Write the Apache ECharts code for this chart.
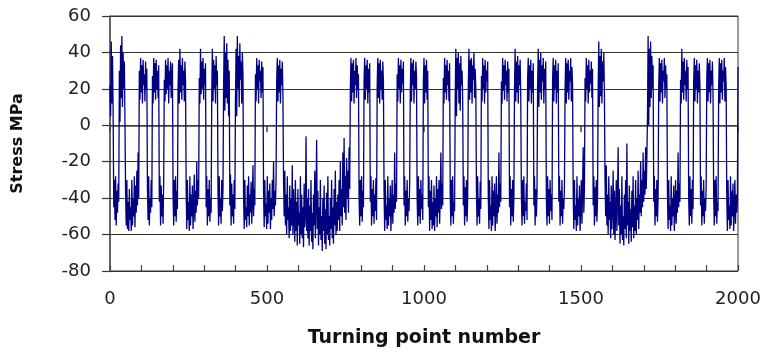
<!DOCTYPE html>
<html>
<head>
<meta charset="utf-8">
<script src="https://cdn.jsdelivr.net/npm/echarts@6/dist/echarts.min.js"></script>
<style>
  html, body { margin: 0; padding: 0; background: #fff; }
  #chart { width: 767px; height: 353px; }
</style>
</head>
<body>
<div id="chart"></div>
<script>
// turning points, read block by block off the picture (values in MPa)
const stressA = [
  22, 5, 46, 12, 38, 8,
  -45, -30, -52, -28, -55, -36, -48, -32, -42,
  30, 2, 44, 15, 49, 10, 40, 20, 35, 1,
  -38, -55, -30, -57, -42, -58, -35, -52, -45, -58, -30, -55, -40, -50, -28, -56, -33, -48, -25, -44, -15, -40,
  30, 14, 37, 18, 33, 12, 36, 22, 28, 13, 35, 20, 31,
  -35, -52, -28, -55, -40, -48, -30, -45,
  27, 12, 37, 18, 34, 14, 36, 20, 30, 15, 33,
  -42, -28, -55, -33, -50, -38, -54, -30,
  25, 13, 36, 17, 33, 20, 37, 12, 30, 22, 35, 15, 28, 34,
  -38, -55, -30, -50, -28, -53, -36, -46,
  20, 36, 12, 42, 18, 33, 14, 37, 22, 30, 13, 35, 24,
  -35, -57, -30, -52, -42, -58, -28, -55, -38, -50, -33, -57, -45, -27, -53, -36, -48, -20, -44, -30, -40,
  26, 12, 42, 17, 35, 20, 37, 14, 31, 22, 34,
  -45, -28, -55, -35, -50, -30, -53, -40, -48,
  18, 42, 13, 36, 20, 33, 12, 38, 22, 30,
  -36, -55, -28, -50, -40, -54, -30, -47, -35,
  22, 49, 8, 40, 15, 45, 12, 36, 5, 30,
  -44, -27, -55, -32, -50, -38, -54, -30, -46,
  15, 42, 5, 49, 20, 38, 10, 45, 25, 35, 12, 40, 28,
  -40, -57, -30, -52, -45, -56, -33, -50, -28, -55, -38, -48, -31, -54, -42, -22, -50, -35, -44,
  28, 13, 37, 20, 33, 12, 36, 24, 30, 15, 35, 18, 32,
  -38, -56, -30, -50, -43, -57, -28, -54, -36, -48, -32, -57, -40, -52, -30, -46, -20, -50, -36, -44, -30,
  24, 37, 13, 33, 18, 36, 12, 31, 22, 35, 16
]
// long low stretch around 550-750
const stressB = [
  -30, -50, -25, -55, -38, -60, -28, -52, -45, -62, -33, -58, -40, -55, -22, -60, -35,
  -50, -64, -30, -58, -42, -66, -35, -55, -48, -65, -28, -60, -38, -62, -45, -67, -32, -56, -50, -6, -58, -40,
  -62, -35, -66, -44, -58, -30, -64, -48, -68, -38, -55, -25, -62, -42, -8, -57, -36, -66, -45, -60, -30, -63, -50, -69, -40,
  -58, -33, -65, -46, -68, -37, -60, -28, -63, -50, -66, -40, -57, -30, -62, -45, -65, -35, -55, -25, -60, -42, -58, -38,
  -52, -30, -58, -20, -50, -35, -55, -15, -45, -7, -48, -28, -52, -18, -40, -25, -48, -12, -35
]
const stressC = [
  20, 37, 13, 34, 18, 36, 12, 30, 22, 37, 15, 33, 20, 28,
  -40, -55, -30, -50, -28, -53, -36, -45,
  25, 37, 14, 33, 20, 36, 12, 31, 18, 34,
  -42, -28, -55, -35, -50, -30, -54, -38, -47, -29, -52,
  22, 37, 15, 34, 12, 36, 20, 30, 14, 35, 24,
  -36, -58, -30, -52, -44, -57, -28, -55, -40, -50, -33, -58, -45, -30, -54, -38, -48, -15, -46, -32, -42,
  28, 13, 37, 20, 33, 12, 36, 18, 31, 23, 35,
  -44, -28, -55, -36, -50, -30, -53, -40, -47, -33,
  18, 37, 13, 34, 22, 36, 12, 30, 20, 35, 26,
  -40, -55, -28, -50, -35, -54, -30, -46, -38, -52,
  24, 37, 12, 33, 18, 36, 14, 30,
  -45, -28, -58, -36, -52, -30, -57, -42, -55, -33, -58, -40, -50, -28, -56, -35, -48, -30, -54, -40, -15, -46, -32, -44,
  26, 12, 37, 18, 33, 14, 36, 22, 30, 13, 34,
  -38, -55, -30, -50, -28, -54, -42, -47,
  15, 42, 5, 37, 20, 40, 12, 34, 8, 38, 22, 30, 14,
  -44, -28, -55, -34, -50, -30, -53, -40,
  22, 42, 14, 36, 18, 37, 12, 33, 25, 40, 15, 31, 20,
  -36, -55, -28, -50, -40, -54, -31, -46,
  27, 13, 37, 20, 33, 12, 36, 18, 30, 24, 35,
  -40, -57, -30, -52, -44, -58, -28, -55, -36, -50, -32, -58, -46, -28, -54, -38, -48, -15, -45, -32, -42,
  24, 12, 37, 19, 33, 14, 36, 22, 30, 13, 35, 18, 31,
  -45, -28, -55, -35, -50, -30, -53, -40,
  20, 42, 13, 35, 18, 38, 12, 33, 22, 36, 15,
  -38, -55, -30, -50, -28, -54, -42, -47, -32, -52,
  26, 37, 13, 33, 20, 36, 12, 30, 18, 34,
  -44, -28, -55, -35, -50, -38,
  22, 42, 10, 36, 18, 40, 14, 33, 24, 37, 12, 31, 20, 35,
  -40, -55, -28, -50, -35, -54, -30, -47, -38, -52,
  25, 37, 13, 33, 20, 36, 12, 30, 18, 34,
  -42, -28, -55, -36, -50, -30, -54, -40, -46, -33,
  20, 37, 12, 34, 18, 36, 14, 30, 24, 37, 13, 32, 22,
  -38, -57, -30, -52, -44, -58, -28, -55, -40, -50, -33, -58, -46, -30, -54, -36, -12, -48, -35,
  26, 13, 37, 20, 33, 12, 36, 18, 30, 23, 35, 15, 31,
  -44, -28, -55, -34, -50, -30, -53, -40,
  20, 46, 10, 38, 16, 42, 12, 35, 24, 40, 18
]
// second long low stretch around 1550-1700
const stressD = [
  -30, -50, -22, -55, -38, -60, -28, -52, -42, -62, -33, -57, -45, -25, -60, -36, -63, -48, -30, -58, -40,
  -12, -55, -35, -65, -44, -60, -28, -63, -50, -66, -38, -57, -30, -62, -10, -55, -42, -65, -33, -58, -46, -64,
  -36, -56, -28, -62, -44, -58, -30, -60, -40, -52, -25, -57, -38, -48, -20, -50, -30, -45, -15, -42, -25, -38, -12, -35, -18
]
const stressE = [
  5, 49, 0, 42, 10, 46, 15, 38, 20, 33,
  -42, -28, -55, -35, -50, -30, -53, -40,
  22, 37, 13, 34, 18, 36, 12, 30, 24, 37, 15, 33, 20, 28,
  -38, -57, -30, -52, -44, -58, -28, -55, -40, -50, -33, -58, -46, -30, -54, -36, -48, -15, -45, -32, -42,
  25, 12, 42, 18, 35, 14, 37, 22, 30, 13, 36, 20, 32,
  -40, -55, -28, -50, -35, -54, -30, -46,
  24, 37, 13, 33, 20, 36, 12, 30, 18, 34, 22,
  -44, -28, -55, -36, -50, -30, -54, -40, -47, -33,
  26, 37, 13, 34, 18, 36, 12, 30, 22, 35, 16,
  -38, -55, -30, -50, -28, -54, -42, -47,
  20, 37, 12, 34, 18, 36, 14, 30, 24, 37, 13, 32, 22,
  -40, -58, -30, -52, -44, -57, -28, -55, -36, -50, -32, -58, -46, -30, -54, -38, -48, -42,
  32
]
const yTicks = [-80, -60, -40, -20, 0, 20, 40, 60]
const xTicks = [0, 500, 1000, 1500, 2000]

const stress = [...stressA, ...stressB, ...stressC, ...stressD, ...stressE]
const lastPoint = xTicks[xTicks.length - 1]
const step = lastPoint / (stress.length - 1)
const points = stress.map((v, i) => [i * step, v])

const myChart = echarts.init(document.getElementById('chart'))
const tickFont = { fontFamily: 'DejaVu Sans', fontSize: 18, color: '#222' }

const option = {
  animation: false,
  backgroundColor: '#fff',
  grid: {
    left: 110, right: 29, top: 16, bottom: 77,
    show: true, borderColor: '#333', borderWidth: 1,
  },
  xAxis: [
    {
      type: 'value',
      min: xTicks[0],
      max: lastPoint,
      interval: 500,
      name: 'Turning point number',
      nameLocation: 'middle',
      nameGap: 58,
      nameTextStyle: { fontFamily: 'DejaVu Sans', fontWeight: 'bold', fontSize: 19, color: '#111' },
      axisLine: { lineStyle: { color: '#444', width: 1.5 } },
      axisTick: { inside: false, length: 7, lineStyle: { color: '#444', width: 1.5 } },
      axisLabel: { ...tickFont, margin: 19, formatter: (v) => String(v) },
      splitLine: { show: false },
    },
    {
      // small ticks every 100, pointing up into the plot
      type: 'value',
      min: xTicks[0],
      max: lastPoint,
      interval: 100,
      position: 'bottom',
      axisLine: { show: false },
      axisTick: { inside: true, length: 6, lineStyle: { color: '#444', width: 1.2 } },
      axisLabel: { show: false },
      splitLine: { show: false },
    },
  ],
  yAxis: {
    type: 'value',
    min: yTicks[0],
    max: yTicks[yTicks.length - 1],
    interval: 20,
    name: 'Stress MPa',
    nameLocation: 'middle',
    nameGap: 84,
    nameRotate: 90,
    nameTextStyle: { fontFamily: 'DejaVu Sans', fontWeight: 'bold', fontSize: 16, color: '#111' },
    axisLine: { show: true, lineStyle: { color: '#555', width: 1.5 } },
    axisTick: { show: true, inside: false, length: 8, lineStyle: { color: '#333', width: 1.2 } },
    axisLabel: { ...tickFont, margin: 19, formatter: (v) => String(v) },
    splitLine: { show: true, lineStyle: { color: '#333', width: 1.2 } },
  },
  series: [
    {
      type: 'line',
      data: points,
      showSymbol: false,
      symbol: 'none',
      lineStyle: { color: '#000080', width: 1.3 },
      sampling: false,
    },
  ],
}

myChart.setOption(option)
</script>
</body>
</html>
